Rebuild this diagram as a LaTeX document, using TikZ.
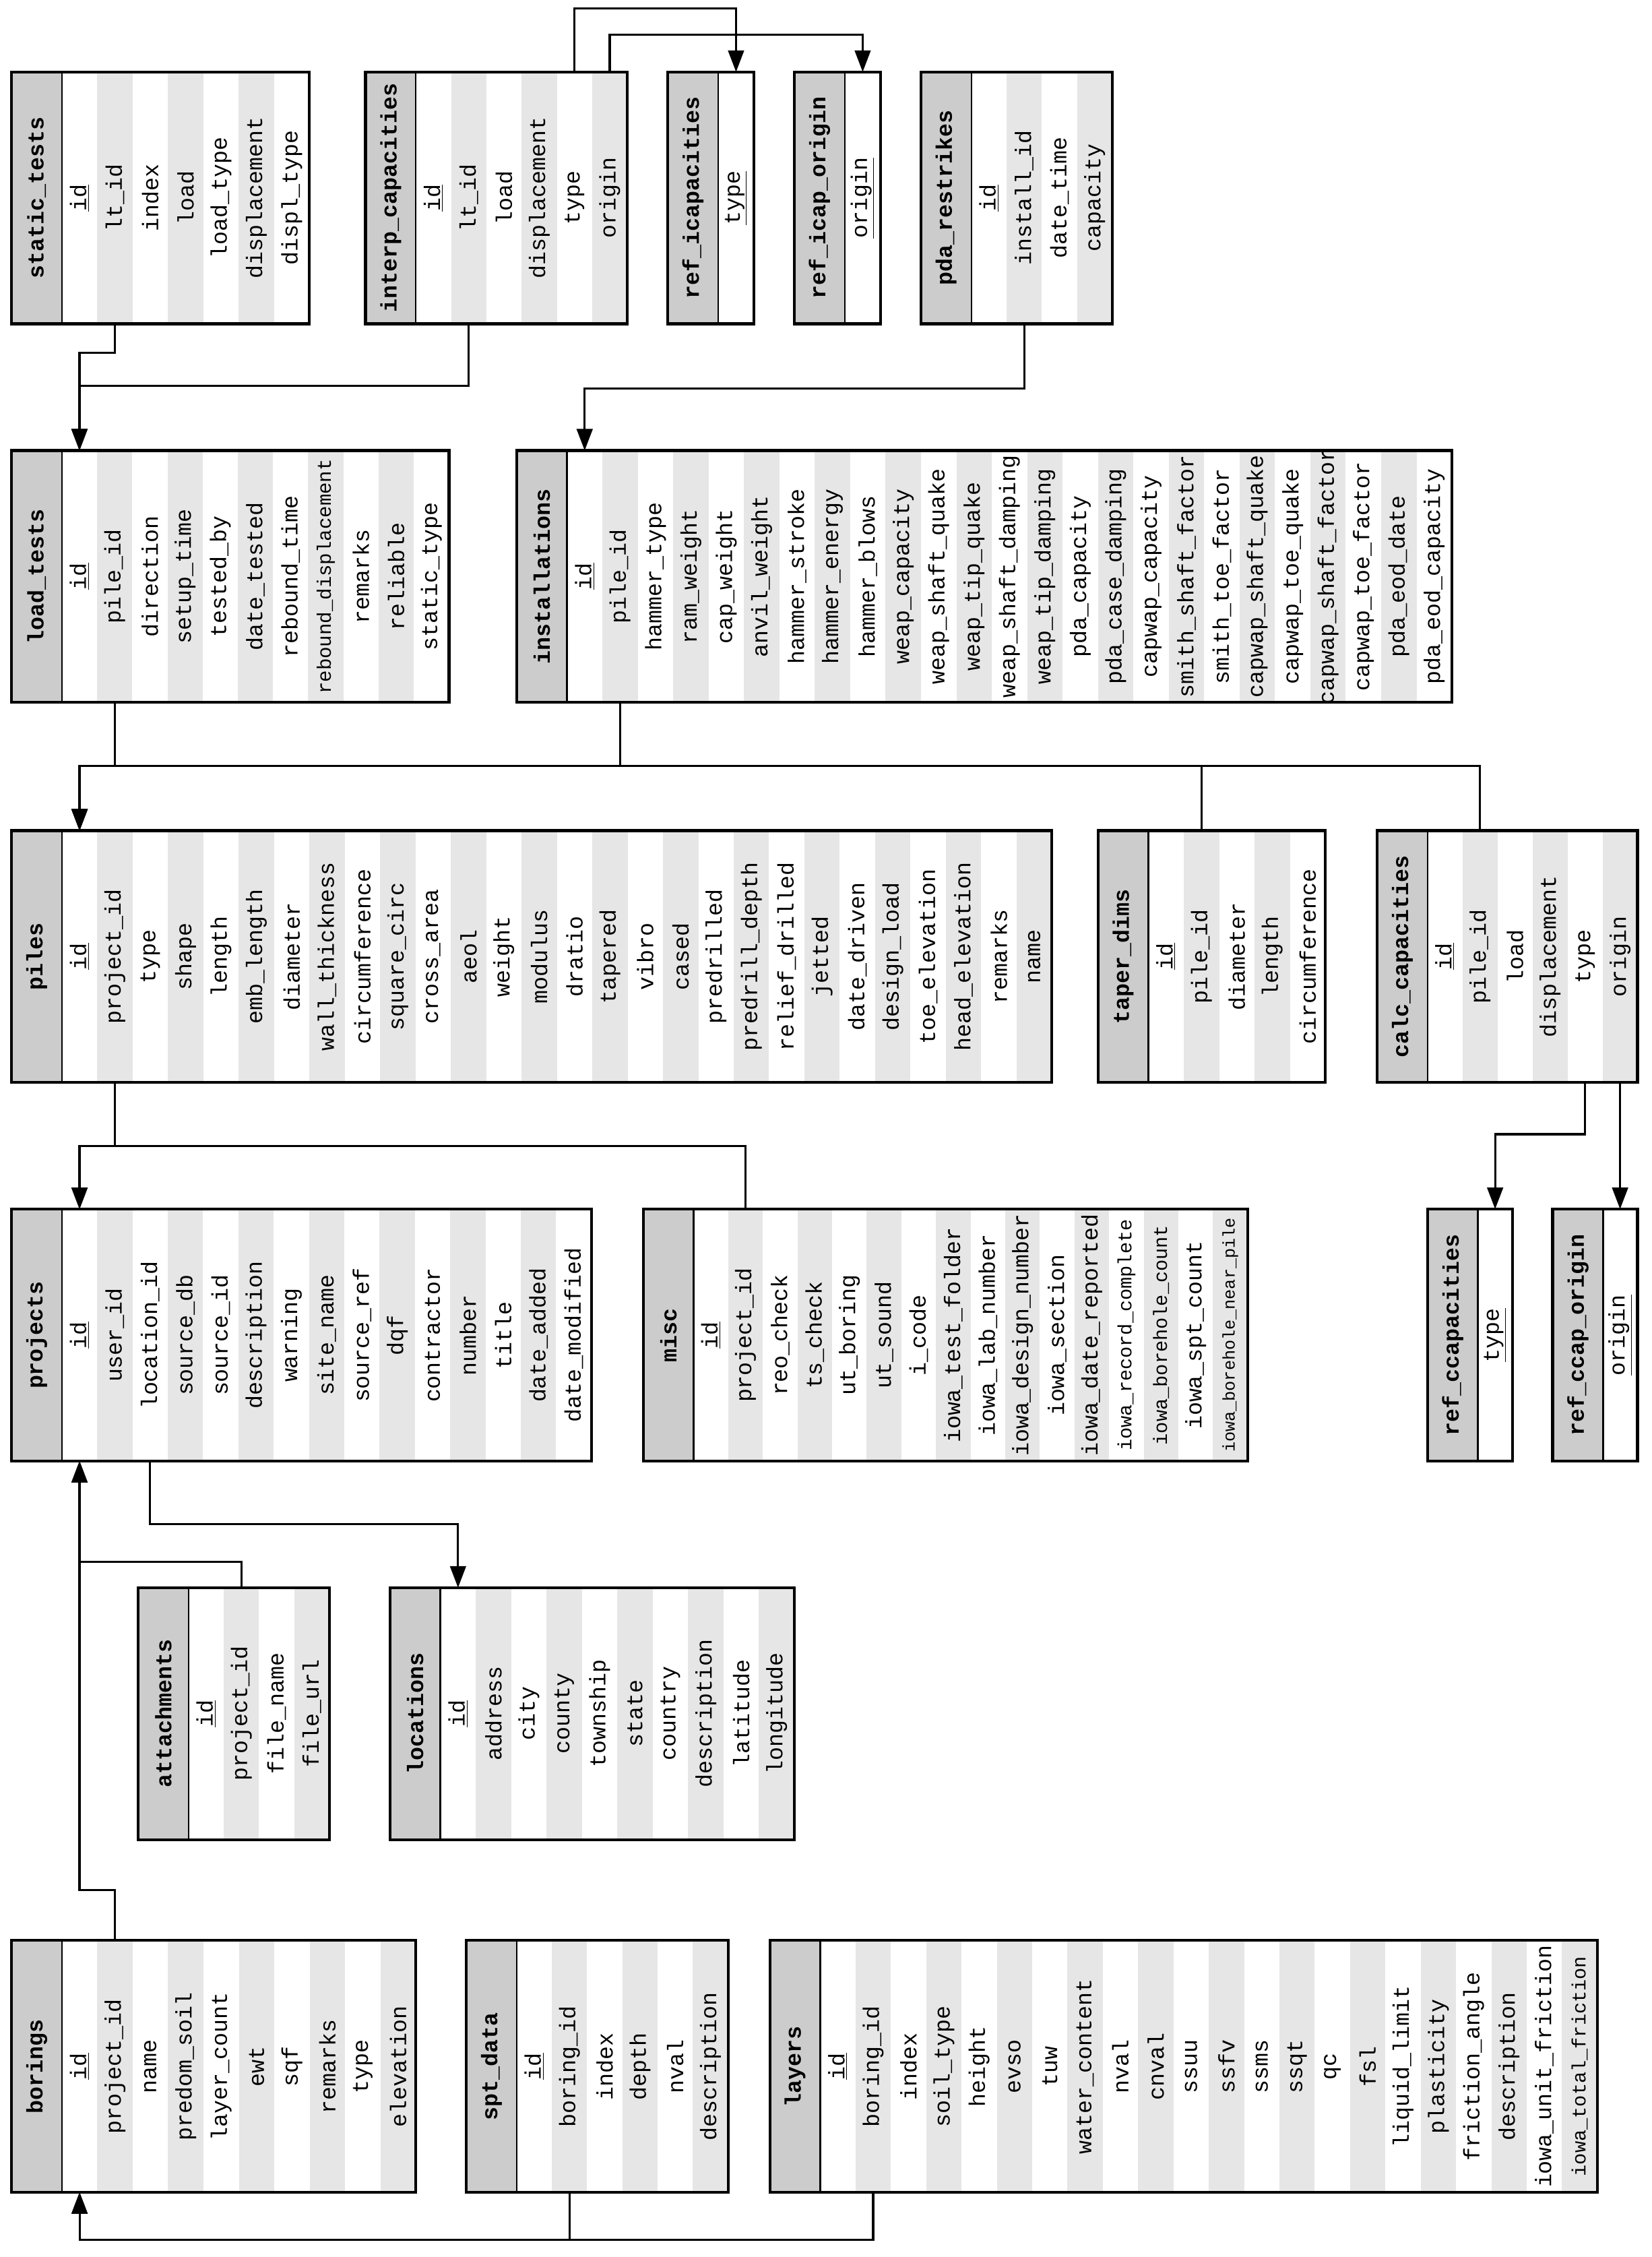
\documentclass[tikz,border=0pt]{standalone}
\usepackage{fontspec}
\setmonofont{Liberation Mono}
\usetikzlibrary{arrows.meta}
\definecolor{hdrgrey}{HTML}{CCCCCC}
\definecolor{rowgrey}{HTML}{E6E6E6}
\tikzset{
  hdrcell/.style={fill=hdrgrey, draw=none, minimum height=175pt, inner sep=0pt, outer sep=0pt},
  fieldcell/.style={draw=none, minimum height=175pt, inner sep=0pt, outer sep=0pt},
  fieldtext/.style={rotate=90, inner sep=0pt, font=\ttfamily\fontsize{15.6}{18}\selectfont},
  hdrtext/.style={rotate=90, inner sep=0pt, font=\ttfamily\bfseries\fontsize{15.6}{18}\selectfont},
  tabborder/.style={draw=black, line width=2pt},
  sepline/.style={draw=black, line width=1.1pt},
  conn/.style={draw=black, line width=1.5pt, -{Triangle[length=15pt,width=11pt]}},
}
\newcommand\smA{\fontsize{13.4}{15}\selectfont}
\newcommand\smB{\fontsize{11.8}{14}\selectfont}
% #1 name, #2 x left, #3 x right, #4 y top, #5 number of fields, #6 fields
\newcommand{\erdtab}[6]{%
  \pgfmathsetmacro\erdw{(#3-#2-35)/#5}%
  \node[hdrcell, minimum width=35pt, anchor=north west] (#1) at (#2,#4) {};
  \foreach \f [count=\i] in {#6} {%
    \pgfmathsetmacro\xx{#2+35+(\i-1)*\erdw}%
    \ifodd\i\relax\def\fc{white}\else\def\fc{rowgrey}\fi
    \node[fieldcell, fill=\fc, minimum width=\erdw pt, anchor=north west] (#1-\i) at (\xx,#4) {};
    \node[fieldtext] at (#1-\i.center) {\ifnum\i=1 \underline{\f}\else\f\fi};
  }
  \draw[sepline] (#1.north east) -- (#1.south east);
  \draw[tabborder] (#1.north west) rectangle (#3,#4+175);
  \node[hdrtext] at (#1.center) {#1};
}
\catcode`\_=12
\begin{document}
\begin{tikzpicture}[x=1pt, y=-1pt]
\useasboundingbox[fill=white] (0,0) rectangle (1148,1568);

% row 1
\erdtab{static_tests}{8}{215}{50}{7}{id,lt_id,index,load,load_type,displacement,displ_type}
\erdtab{interp_capacities}{254}{436}{50}{6}{id,lt_id,load,displacement,type,origin}
\erdtab{ref_icapacities}{464}{524}{50}{1}{type}
\erdtab{ref_icap_origin}{552}{612}{50}{1}{origin}
\erdtab{pda_restrikes}{640}{773}{50}{4}{id,install_id,date_time,capacity}

% row 2
\erdtab{load_tests}{8}{312}{313}{11}{id,pile_id,direction,setup_time,tested_by,date_tested,rebound_time,{\fontsize{13.6}{15}\selectfont rebound_displacement},remarks,reliable,static_type}
\erdtab{installations}{359}{1009}{313}{25}{id,pile_id,hammer_type,ram_weight,cap_weight,anvil_weight,hammer_stroke,hammer_energy,hammer_blows,weap_capacity,weap_shaft_quake,weap_tip_quake,weap_shaft_damping,weap_tip_damping,pda_capacity,pda_case_damping,capwap_capacity,smith_shaft_factor,smith_toe_factor,capwap_shaft_quake,capwap_toe_quake,capwap_shaft_factor,capwap_toe_factor,pda_eod_date,pda_eod_capacity}

% row 3
\erdtab{piles}{8}{731}{577}{28}{id,project_id,type,shape,length,emb_length,diameter,wall_thickness,circumference,square_circ,cross_area,aeol,weight,modulus,dratio,tapered,vibro,cased,predrilled,predrill_depth,relief_drilled,jetted,date_driven,design_load,toe_elevation,head_elevation,remarks,name}
\erdtab{taper_dims}{763}{921}{577}{5}{id,pile_id,diameter,length,circumference}
\erdtab{calc_capacities}{957}{1138}{577}{6}{id,pile_id,load,displacement,type,origin}

% row 4
\erdtab{projects}{8}{411}{840}{15}{id,user_id,location_id,source_db,source_id,description,warning,site_name,source_ref,dqf,contractor,number,title,date_added,date_modified}
\erdtab{misc}{447}{867}{840}{16}{id,project_id,reo_check,ts_check,ut_boring,ut_sound,i_code,iowa_test_folder,iowa_lab_number,iowa_design_number,iowa_section,iowa_date_reported,{\smA iowa_record_complete},{\smA iowa_borehole_count},iowa_spt_count,{\smB iowa_borehole_near_pile}}
\erdtab{ref_ccapacities}{992}{1051}{840}{1}{type}
\erdtab{ref_ccap_origin}{1079}{1138}{840}{1}{origin}

% row 5
\erdtab{attachments}{96}{229}{1103}{4}{id,project_id,file_name,file_url}
\erdtab{locations}{271}{552}{1103}{10}{id,address,city,county,township,state,country,description,latitude,longitude}

% row 6
\erdtab{borings}{8}{289}{1348}{10}{id,project_id,name,predom_soil,layer_count,ewt,sqf,remarks,type,elevation}
\erdtab{spt_data}{324}{506}{1348}{6}{id,boring_id,index,depth,nval,description}
\erdtab{layers}{535}{1110}{1348}{22}{id,boring_id,index,soil_type,height,evso,tuw,water_content,nval,cnval,ssuu,ssfv,ssms,ssqt,qc,fsl,liquid_limit,plasticity,friction_angle,description,iowa_unit_friction,{\smA iowa_total_friction}}

% connectors
\draw[conn] (static_tests-2.south) -- ++(0,20) -| (load_tests-1.north);
\draw[conn] (interp_capacities-2.south) -- ++(0,43) -| (load_tests-1.north);
\draw[conn] (interp_capacities-5.north) -- ++(0,-44) -| (ref_icapacities-1.north);
\draw[conn] (interp_capacities-6.north) -- ++(0,-26) -| (ref_icap_origin-1.north);
\draw[conn] (pda_restrikes-2.south) -- ++(0,45) -| (installations-1.north);

\draw[conn] (load_tests-2.south) -- ++(0,44) -| (piles-1.north);
\draw[conn] (installations-2.south) -- ++(0,44) -| (piles-1.north);
\draw[conn] (taper_dims-2.north) -- ++(0,-45) -| (piles-1.north);
\draw[conn] (calc_capacities-2.north) -- ++(0,-45) -| (piles-1.north);

\draw[conn] (calc_capacities-5.south) -- ++(0,36) -| (ref_ccapacities-1.north);
\draw[conn] (calc_capacities-6.south) -- (calc_capacities-6.south |- ref_ccap_origin-1.north);

\draw[conn] (piles-2.south) -- ++(0,44) -| (projects-1.north);
\draw[conn] (misc-2.north) -- ++(0,-44) -| (projects-1.north);

\draw[conn] (projects-3.south) -- ++(0,44) -| (locations-1.north);
\draw[conn] (attachments-2.north) -- ++(0,-18) -| (projects-1.south);
\draw[conn] (borings-2.north) -- ++(0,-35) -| (projects-1.south);

\draw[conn] (spt_data-2.south) -- ++(0,33) -| (borings-1.south);
\draw[conn] (layers-2.south) -- ++(0,33) -| (borings-1.south);
\end{tikzpicture}
\end{document}
